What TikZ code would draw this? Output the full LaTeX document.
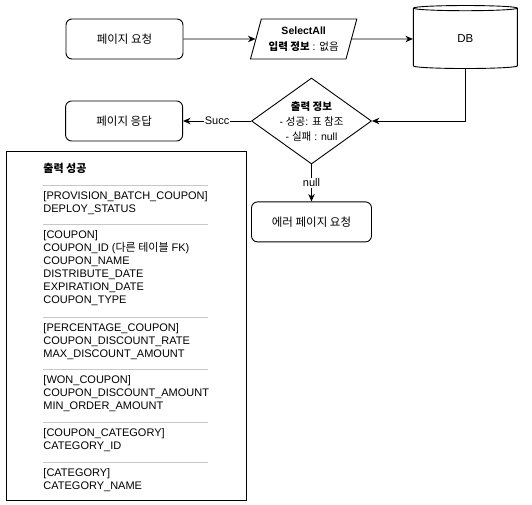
\documentclass[tikz,border=0pt]{standalone}
\usepackage{fontspec}
\setmainfont{Liberation Sans}
\newfontfamily\kr{Noto Sans CJK KR}
\usepackage{tikz}
\usetikzlibrary{arrows.meta,positioning,calc,shapes.geometric}

\begin{document}
\begin{tikzpicture}[
    x=1pt, y=-1pt,
    line width=0.9pt,
    font=\fontsize{11}{13}\selectfont,
    box/.style={draw, rounded corners=6pt, minimum width=117pt,
      minimum height=40pt, align=center, font=\fontsize{11.5}{14}\selectfont\kr},
    io/.style={draw, trapezium, trapezium left angle=70, trapezium right angle=110,
      trapezium stretches=true, minimum width=107pt, minimum height=40pt,
      align=center, inner sep=0pt, font=\fontsize{10.5}{16}\selectfont},
    store/.style={draw, cylinder, shape border rotate=90, aspect=0.23,
      minimum width=104pt, minimum height=63pt, font=\fontsize{11.5}{14}\selectfont},
    decision/.style={draw, diamond, minimum width=120pt, minimum height=86pt, inner sep=0pt},
    arrow/.style={-{Stealth[length=7.5pt,width=6.5pt]}},
    lbl/.style={fill=white, inner sep=1pt},
    rule/.style={draw=black!22, line width=1pt},
    item/.style={anchor=north west, align=left, inner sep=0pt}
  ]
    \useasboundingbox (0,0) rectangle (532,505);

    \node[box] (req) at (124.5,39) {페이지 요청};
    \node[io, right=72pt of req] (sel)
      {\textbf{SelectAll}\\{\kr\bfseries 입력 정보} : {\kr 없음}};
    \node[store, right=61pt of sel] (db) {DB};
    \node[decision] (dec) at (311.5,121) {};
    \node[align=center, font=\fontsize{10.5}{15}\selectfont] (dectxt) at (dec.center)
      {{\kr\bfseries 출력 정보}\\- {\kr 성공}: {\kr 표 참조}\\- {\kr 실패} : null};
    \node[box, left=68pt of dec] (resp) {페이지 응답};
    \node[box, below=37pt of dec, minimum width=120pt] (err) {에러 페이지 요청};

    \draw[arrow] (req) -- (sel);
    \draw[arrow] (sel) -- (db);
    \draw[arrow] (db.south) |- (dec.east);
    \draw[arrow] (dec) -- node[lbl] {Succ} (resp);
    \draw[arrow] (dec) -- node[lbl] {null} (err);

    % result table
    \node[draw, anchor=north west, minimum width=240pt, minimum height=349pt,
      inner sep=0pt] (panel) at (6,151) {};
    \node[anchor=base west, inner sep=0pt, font=\fontsize{11}{13}\selectfont\kr\bfseries]
      (ttl) at (43,172) {출력 성공};
    \foreach \y in {185,224,317,369,422,462}
      \draw[rule] (43,\y) -- (208,\y);
    \node[item] (g1) at (43,191) {[PROVISION\_BATCH\_COUPON]\\DEPLOY\_STATUS};
    \node[item] (g2) at (43,230) {[COUPON]\\COUPON\_ID ({\kr 다른 테이블} FK)\\COUPON\_NAME\\
      DISTRIBUTE\_DATE\\EXPIRATION\_DATE\\COUPON\_TYPE};
    \node[item] (g3) at (43,323) {[PERCENTAGE\_COUPON]\\COUPON\_DISCOUNT\_RATE\\MAX\_DISCOUNT\_AMOUNT};
    \node[item] (g4) at (43,375) {[WON\_COUPON]\\COUPON\_DISCOUNT\_AMOUNT\\MIN\_ORDER\_AMOUNT};
    \node[item] (g5) at (43,428) {[COUPON\_CATEGORY]\\CATEGORY\_ID};
    \node[item] (g6) at (43,468) {[CATEGORY]\\CATEGORY\_NAME};
  \end{tikzpicture}
\end{document}
